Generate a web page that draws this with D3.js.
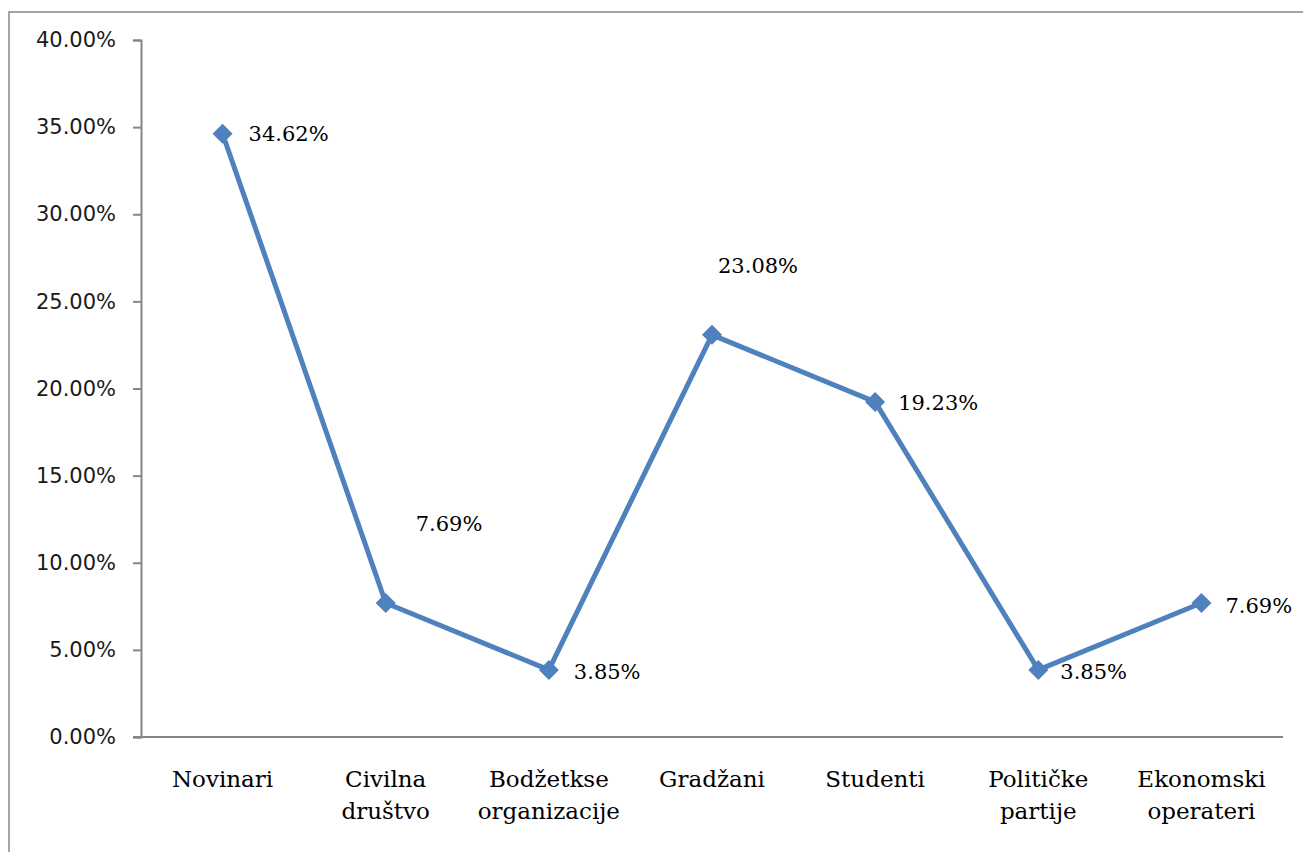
<!DOCTYPE html>
<html>
<head>
<meta charset="utf-8">
<script src="https://cdn.jsdelivr.net/npm/d3@7"></script>
<style>
  html, body { margin: 0; padding: 0; background: #fff; }
  svg { display: block; }
</style>
</head>
<body>
<svg id="chart" width="1303" height="852"></svg>
<script>
// ---- data ----
const categories = [
  ["Novinari"],
  ["Civilna", "društvo"],
  ["Bodžetkse", "organizacije"],
  ["Gradžani"],
  ["Studenti"],
  ["Političke", "partije"],
  ["Ekonomski", "operateri"]
];
const values = [34.62, 7.69, 3.85, 23.08, 19.23, 3.85, 7.69];
const dataLabels = ["34.62%", "7.69%", "3.85%", "23.08%", "19.23%", "3.85%", "7.69%"];
const yTicks = [0, 5, 10, 15, 20, 25, 30, 35, 40];
const yTickLabels = ["0.00%", "5.00%", "10.00%", "15.00%", "20.00%", "25.00%", "30.00%", "35.00%", "40.00%"];

// ---- layout (label offsets from the point, in px) ----
const labelOffsets = [[26, 0], [30, -80], [25, 2], [6, -69], [23, 1], [22, 2], [24, 2]];

(function () {
const svg = d3.select("#chart");
const pLeft = 141, pRight = 1283, pTop = 40, pBottom = 737;
const catKeys = categories.map(c => c.join(" "));

const x = d3.scalePoint().domain(catKeys).range([pLeft, pRight]).padding(0.5);
const y = d3.scaleLinear().domain([0, 40]).range([pBottom, pTop]);

// outer frame
svg.append("rect")
  .attr("x", 9).attr("y", 12).attr("width", 1400).attr("height", 1000)
  .attr("fill", "none").attr("stroke", "#a6a6a6").attr("stroke-width", 2);

// y axis
const yAxis = d3.axisLeft(y)
  .tickValues(yTicks)
  .tickFormat((d, i) => yTickLabels[i])
  .tickSize(8).tickPadding(17);
const gy = svg.append("g").attr("transform", `translate(${pLeft},0)`).call(yAxis);
gy.select(".domain").attr("stroke", "#868686").attr("stroke-width", 2);
gy.selectAll(".tick line").attr("stroke", "#868686").attr("stroke-width", 2);
gy.selectAll(".tick text")
  .attr("font-family", "'DejaVu Sans', Verdana, sans-serif")
  .attr("font-size", 21).attr("fill", "#1a1a1a");

// x axis
const xAxis = d3.axisBottom(x).tickSize(0).tickFormat("");
const gx = svg.append("g").attr("transform", `translate(0,${pBottom})`).call(xAxis);
gx.select(".domain").attr("stroke", "#868686").attr("stroke-width", 2)
  .attr("d", `M${pLeft - 8},0H${pRight}`);

// category labels
const catG = svg.append("g");
categories.forEach((lines, i) => {
  const t = catG.append("text")
    .attr("x", x(catKeys[i]))
    .attr("y", 787)
    .attr("text-anchor", "middle")
    .attr("font-family", "'DejaVu Serif', 'Liberation Serif', serif")
    .attr("font-size", 23)
    .attr("fill", "#000");
  lines.forEach((ln, j) => {
    t.append("tspan").attr("x", x(catKeys[i])).attr("dy", j === 0 ? 0 : 32).text(ln);
  });
});

// line
const pts = values.map((v, i) => [x(catKeys[i]), y(v)]);
svg.append("path")
  .attr("d", d3.line()(pts))
  .attr("fill", "none").attr("stroke", "#4f81bd")
  .attr("stroke-width", 5).attr("stroke-linejoin", "round");

// diamond markers
const h = 10;
svg.append("g").selectAll("path.m").data(values).join("path")
  .attr("class", "m")
  .attr("transform", (d, i) => `translate(${x(catKeys[i])},${y(d)})`)
  .attr("d", `M0,${-h}L${h},0L0,${h}L${-h},0Z`)
  .attr("fill", "#4f81bd");

// data labels
svg.append("g").selectAll("text").data(values).join("text")
  .attr("x", (d, i) => x(catKeys[i]) + labelOffsets[i][0])
  .attr("y", (d, i) => y(d) + labelOffsets[i][1])
  .attr("dy", "0.36em")
  .attr("font-family", "'DejaVu Serif', 'Liberation Serif', serif")
  .attr("font-size", 21)
  .attr("fill", "#000")
  .text((d, i) => dataLabels[i]);
})();
</script>
</body>
</html>
